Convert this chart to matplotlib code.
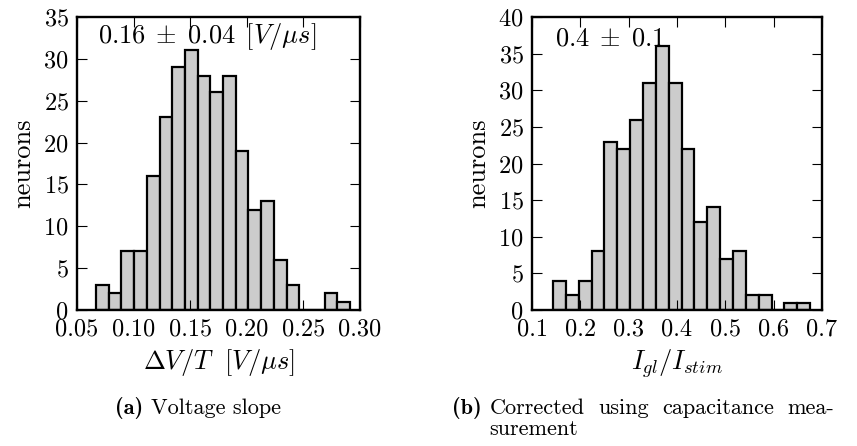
import numpy as np
import matplotlib
matplotlib.use("Agg")
import matplotlib.pyplot as plt

plt.rcParams.update({
    "font.family": "cmr10",
    "mathtext.fontset": "cm",
    "axes.unicode_minus": False,
    "axes.formatter.use_mathtext": True,
})

# Histogram of voltage slopes (20 equal bins between the sample extremes)
slope_range = (0.0668, 0.2912)
slope_counts = [3, 2, 7, 7, 16, 23, 29, 31, 28, 26, 28, 19, 12, 13, 6, 3, 0, 0, 2, 1]
slope_xticks = [0.05, 0.10, 0.15, 0.20, 0.25, 0.30]
slope_yticks = [0, 5, 10, 15, 20, 25, 30, 35]
slope_note = r"$0.16\;\pm\;0.04\ \,[V/\mu s]$"

# Histogram of current ratios after capacitance correction
ratio_range = (0.1435, 0.6756)
ratio_counts = [4, 2, 4, 8, 23, 22, 26, 31, 36, 31, 22, 12, 14, 7, 8, 2, 2, 0, 1, 1]
ratio_xticks = [0.1, 0.2, 0.3, 0.4, 0.5, 0.6, 0.7]
ratio_yticks = [0, 5, 10, 15, 20, 25, 30, 35, 40]
ratio_note = r"$0.4\;\pm\;0.1$"

W, H = 857, 446
fig = plt.figure(figsize=(W / 100, H / 100), dpi=100)

FS = 19
TFS = 17.5


def panel(rect, rng, counts, xticks, yticks, xfmt, xlabel, note, note_pos):
    ax = fig.add_axes(rect)
    edges = np.linspace(rng[0], rng[1], len(counts) + 1)
    ax.bar(edges[:-1], counts, width=np.diff(edges), align="edge",
           color="#cccccc", edgecolor="black", linewidth=1.6)
    ax.set_xlim(xticks[0], xticks[-1])
    ax.set_ylim(yticks[0], yticks[-1])
    ax.set_xticks(xticks)
    ax.set_xticklabels([xfmt.format(t) for t in xticks])
    ax.set_yticks(yticks)
    ax.tick_params(direction="in", length=7, width=0.8, top=True, right=True,
                   labelsize=TFS, pad=6)
    for s in ax.spines.values():
        s.set_linewidth(1.7)
    ax.set_xlabel(xlabel, fontsize=FS, labelpad=5)
    ax.set_ylabel("neurons", fontsize=FS, labelpad=6)
    ax.text(note_pos[0], note_pos[1], note, transform=ax.transAxes,
            fontsize=FS, ha="left", va="center")
    return ax


def px_rect(x0, x1, y0, y1):
    return [x0 / W, 1 - y1 / H, (x1 - x0) / W, (y1 - y0) / H]


ax1 = panel(px_rect(77, 360, 17, 310), slope_range, slope_counts, slope_xticks,
            slope_yticks, "{:.2f}", r"$\Delta V/T\ \ [V/\mu s]$", slope_note,
            (0.075, 0.935))
ax2 = panel(px_rect(532, 822, 17, 310), ratio_range, ratio_counts, ratio_xticks,
            ratio_yticks, "{:.1f}", r"$I_{gl}/I_{stim}$", ratio_note,
            (0.08, 0.925))

# Sub-figure captions
CFS = 16
cap_y1 = 1 - 408 / H
cap_y2 = 1 - 429 / H

ta_lbl = fig.text(0, cap_y1, "(a)", family="cmb10", fontsize=CFS, va="center")
ta_txt = fig.text(0, cap_y1, "Voltage slope", fontsize=CFS, va="center")

tb_lbl = fig.text(452 / W, cap_y1, "(b)", family="cmb10", fontsize=CFS, va="center")
words = ["Corrected", "using", "capacitance", "mea-"]
word_txt = [fig.text(0, cap_y1, w, fontsize=CFS, va="center") for w in words]
second_line = fig.text(0, cap_y2, "surement", fontsize=CFS, va="center")

fig.canvas.draw()
r = fig.canvas.get_renderer()

# centre "(a) Voltage slope" under the left sub-figure
gap = 8
wa = ta_lbl.get_window_extent(r).width
wt = ta_txt.get_window_extent(r).width
x0 = 198 - (wa + gap + wt) / 2
ta_lbl.set_x(x0 / W)
ta_txt.set_x((x0 + wa + gap) / W)

# justify the first caption line of (b); the second line hangs under it
x_start = 452 + tb_lbl.get_window_extent(r).width + gap
x_end = 834
widths = [t.get_window_extent(r).width for t in word_txt]
g = (x_end - x_start - sum(widths)) / (len(words) - 1)
x = x_start
for t, w in zip(word_txt, widths):
    t.set_x(x / W)
    x += w + g
second_line.set_x(x_start / W)

fig.savefig("out.png", dpi=100)
